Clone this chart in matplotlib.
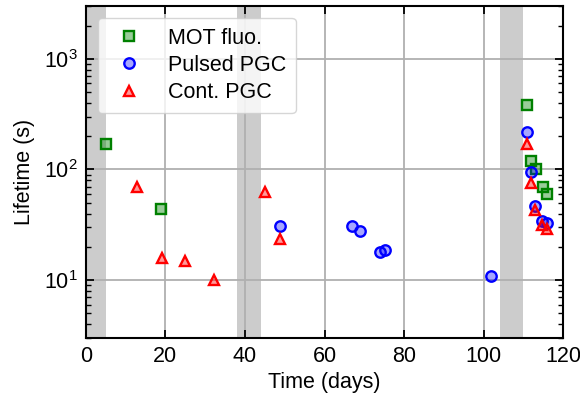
import matplotlib
matplotlib.use("Agg")
import matplotlib.pyplot as plt
from matplotlib.ticker import LogLocator, NullFormatter

plt.rcParams['font.family'] = ['Liberation Sans', 'DejaVu Sans']
plt.rcParams['mathtext.fontset'] = 'custom'
plt.rcParams['mathtext.rm'] = 'Liberation Sans'
plt.rcParams['mathtext.it'] = 'Liberation Sans'

mot_days = [5, 19, 111, 112, 113.2, 114.9, 116]
mot_life = [170, 44, 382, 119, 101, 70, 60]

pulsed_days = [48.9, 66.9, 69, 73.9, 75.1, 101.9, 111, 112, 112.8, 114.8, 116]
pulsed_life = [30.7, 30.7, 27.7, 18, 18.9, 11, 219, 94, 47, 34.5, 33]

cont_days = [12.9, 19.1, 25, 32.1, 45.1, 48.9, 111, 112, 112.9, 114.8, 116]
cont_life = [70, 15.9, 14.8, 10, 62.4, 23.6, 171, 76, 43, 31.8, 28.7]

shaded = [(0, 5), (38, 44), (104, 110)]

FS = 15.5

fig = plt.figure(figsize=(5.8, 4.01), dpi=100)
ax = fig.add_axes([0.148, 0.157, 0.823, 0.828])

for a, b in shaded:
    ax.axvspan(a, b, color='#cccccc', lw=0, zorder=0)

ms = 7.5
mew = 1.7
ax.plot(mot_days, mot_life, ls='none', marker='s', ms=ms, mew=mew,
        mec='green', mfc=(0.0, 0.5, 0.0, 0.4), label='MOT fluo.', zorder=3)
ax.plot(pulsed_days, pulsed_life, ls='none', marker='o', ms=ms, mew=mew,
        mec='blue', mfc=(0.0, 0.0, 1.0, 0.35), label='Pulsed PGC', zorder=3)
ax.plot(cont_days, cont_life, ls='none', marker='^', ms=ms, mew=mew,
        mec='red', mfc=(1.0, 0.0, 0.0, 0.4), label='Cont. PGC', zorder=3)

ax.set_yscale('log')
ax.set_xlim(0, 120)
ax.set_ylim(3, 3000)
ax.set_xticks([0, 20, 40, 60, 80, 100, 120])
ax.yaxis.set_minor_locator(LogLocator(base=10, subs=range(2, 10), numticks=20))
ax.yaxis.set_minor_formatter(NullFormatter())

ax.grid(True, which='major', color='#b0b0b0', lw=1.3, zorder=1)
ax.set_axisbelow(True)

ax.tick_params(which='both', direction='in', top=True, right=True, labelsize=FS)
ax.tick_params(which='major', length=6, width=1.3, pad=6)
ax.tick_params(which='minor', length=3.5, width=1.0)
for s in ax.spines.values():
    s.set_linewidth(1.5)

ax.set_xlabel('Time (days)', fontsize=FS, labelpad=3)
ax.set_ylabel('Lifetime (s)', fontsize=FS, labelpad=6)

ax.legend(loc='upper left', fontsize=FS, numpoints=1,
          handletextpad=0.8, borderpad=0.45, labelspacing=0.3, borderaxespad=0.55)

fig.savefig('out.png', dpi=100)
